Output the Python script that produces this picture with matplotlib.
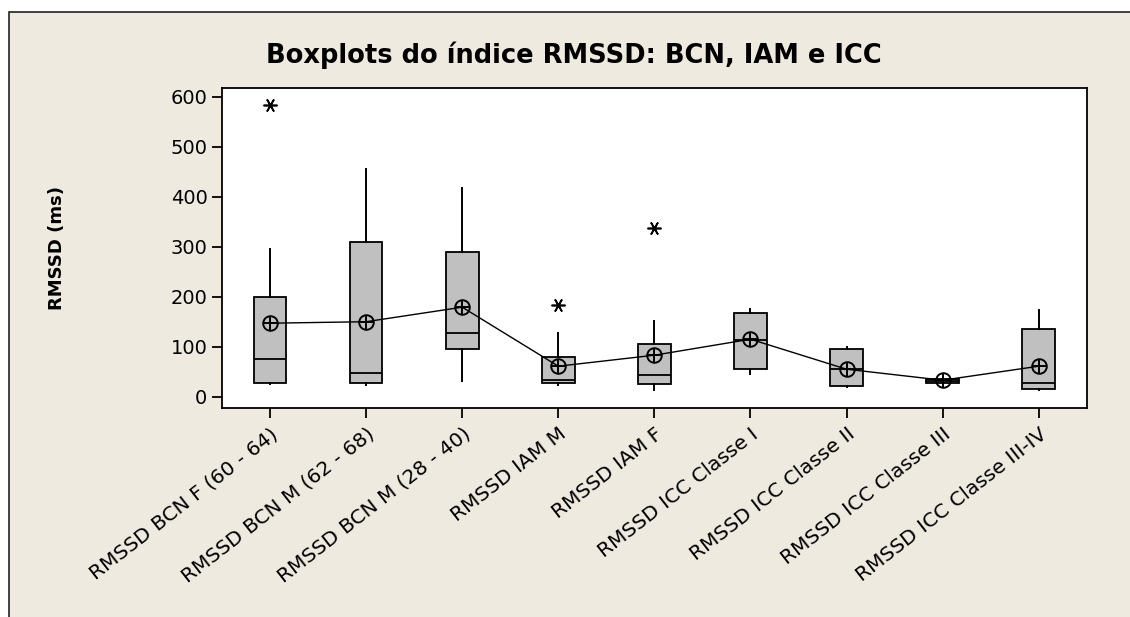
import matplotlib
matplotlib.use("Agg")
import matplotlib.pyplot as plt
from matplotlib.patches import Rectangle

# values (ms)
groups = ["RMSSD BCN F (60 - 64)", "RMSSD BCN M (62 - 68)", "RMSSD BCN M (28 - 40)",
          "RMSSD IAM M", "RMSSD IAM F", "RMSSD ICC Classe I", "RMSSD ICC Classe II",
          "RMSSD ICC Classe III", "RMSSD ICC Classe III-IV"]
whisker_low = [25, 23, 31, 23, 13, 45, 19, 27, 13]
q1 = [28, 28, 95, 28, 25, 56, 21, 28, 15]
median = [75, 47, 127, 33, 43, 113, 55, 31, 27]
q3 = [200, 309, 289, 79, 105, 168, 95, 35, 136]
whisker_high = [295, 455, 417, 127, 151, 176, 100, 36, 173]
means = [147, 150, 179, 61, 83, 115, 55, 33, 61]
outliers = [[583], [], [], [183], [337], [], [], [], []]

BEIGE = "#EEEAE0"


def build_stats():
    stats = []
    for i, name in enumerate(groups):
        stats.append({
            "label": name,
            "whislo": whisker_low[i], "q1": q1[i], "med": median[i],
            "q3": q3[i], "whishi": whisker_high[i], "fliers": outliers[i],
        })
    return stats


def main():
    fig = plt.figure(figsize=(11.3, 6.17), dpi=100, facecolor="white")
    # beige panel with dark frame on top/left
    fig.patches.append(Rectangle((9 / 1130, -0.1), 1.2, 1.1 - 12 / 617,
                                 transform=fig.transFigure, facecolor=BEIGE,
                                 edgecolor="#222222", linewidth=1.2, zorder=-10))

    ax = fig.add_axes([0.1965, 0.3392, 0.7652, 0.5187])
    ax.set_facecolor("white")

    pos = list(range(1, len(groups) + 1))
    ax.bxp(build_stats(), positions=pos, widths=0.34, patch_artist=True,
           showcaps=False, showfliers=True,
           boxprops=dict(facecolor="#C0C0C0", edgecolor="black", linewidth=1.3),
           medianprops=dict(color="black", linewidth=1.3),
           whiskerprops=dict(color="black", linewidth=1.4),
           flierprops=dict(marker=(6, 2, 90), markersize=10, markeredgecolor="black",
                           markeredgewidth=1.2, linestyle="none"))

    # mean symbols joined by a line
    ax.plot(pos, means, color="black", linewidth=1.0, zorder=4)
    ax.plot(pos, means, linestyle="none", marker="o", markersize=10.5,
            markerfacecolor="none", markeredgecolor="black", markeredgewidth=1.4, zorder=5)
    ax.plot(pos, means, linestyle="none", marker="+", markersize=10.5,
            markeredgecolor="black", markeredgewidth=1.4, zorder=5)

    ax.set_xlim(0.5, 9.5)
    ax.set_ylim(-22, 618)
    ax.set_yticks([0, 100, 200, 300, 400, 500, 600])
    ax.set_xticks(pos)
    ax.set_xticklabels(groups, rotation=38, ha="right", rotation_mode="anchor")
    ax.tick_params(direction="out", length=7, width=1.3, labelsize=14, colors="black")
    ax.tick_params(axis="x", labelsize=14.5, pad=5)
    for s in ax.spines.values():
        s.set_linewidth(1.3)

    fig.text(0.05, 0.598, "RMSSD (ms)", rotation=90, fontsize=13, fontweight="bold",
             ha="center", va="center")
    fig.text(0.508, 0.911, "Boxplots do índice RMSSD: BCN, IAM e ICC", fontsize=18.5,
             fontweight="bold", ha="center", va="center")

    fig.savefig("out.png", dpi=100, facecolor=fig.get_facecolor())


if __name__ == "__main__":
    main()
